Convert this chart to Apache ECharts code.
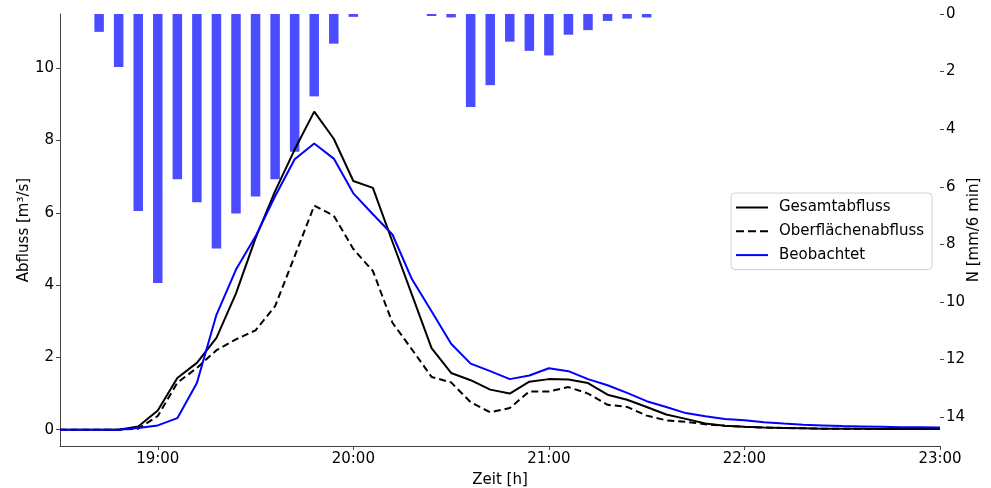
<!DOCTYPE html>
<html>
<head>
<meta charset="utf-8">
<script src="https://cdn.jsdelivr.net/npm/echarts@6/dist/echarts.min.js"></script>
<style>html,body{margin:0;padding:0;background:#fff}#c{width:991px;height:488px}</style>
</head>
<body>
<div id="c"></div>
<script>
var times = ["18:30","18:36","18:42","18:48","18:54","19:00","19:06","19:12","19:18","19:24","19:30","19:36","19:42","19:48","19:54","20:00","20:06","20:12","20:18","20:24","20:30","20:36","20:42","20:48","20:54","21:00","21:06","21:12","21:18","21:24","21:30","21:36","21:42","21:48","21:54","22:00","22:06","22:12","22:18","22:24","22:30","22:36","22:42","22:48","22:54","23:00"];
var niederschlag = [0,0,0.62,1.84,6.84,9.34,5.74,6.54,8.14,6.93,6.34,5.74,4.78,2.86,1.03,0.10,0,0,0,0.07,0.12,3.23,2.47,0.96,1.28,1.44,0.72,0.56,0.24,0.16,0.12,0,0,0,0,0,0,0,0,0,0,0,0,0,0,0];
var gesamtabfluss = [0,0,0,0,0.09,0.53,1.43,1.85,2.54,3.77,5.3,6.6,7.75,8.8,8.05,6.88,6.69,5.2,3.73,2.26,1.57,1.37,1.11,1.0,1.33,1.40,1.39,1.29,0.97,0.83,0.63,0.42,0.30,0.17,0.11,0.08,0.06,0.05,0.04,0.03,0.03,0.03,0.02,0.02,0.02,0.02];
var oberflaechenabfluss = [0,0,0,0,0.03,0.38,1.3,1.71,2.2,2.5,2.75,3.42,4.8,6.2,5.92,5.0,4.39,2.96,2.22,1.46,1.31,0.76,0.48,0.60,1.06,1.06,1.18,1.0,0.69,0.63,0.39,0.26,0.22,0.15,0.11,0.08,0.06,0.05,0.04,0.03,0.03,0.02,0.02,0.02,0.02,0.02];
var beobachtet = [0,0,0,0,0.05,0.12,0.32,1.29,3.18,4.43,5.35,6.46,7.48,7.92,7.5,6.54,5.96,5.4,4.16,3.28,2.38,1.83,1.62,1.40,1.50,1.70,1.62,1.40,1.23,1.02,0.79,0.63,0.46,0.37,0.30,0.26,0.21,0.17,0.14,0.12,0.10,0.09,0.08,0.07,0.07,0.06];
var xTickLabels = ["19:00","20:00","21:00","22:00","23:00"];
var leftTicks = [0,2,4,6,8,10];
var rightTicks = [0,2,4,6,8,10,12,14];

function toMin(s){var p=s.split(":");return (+p[0])*60+(+p[1]);}
function fmt(v){var h=Math.floor(v/60),m=Math.round(v-h*60);return h+":"+(m<10?"0":"")+m;}
function pairs(arr){return times.map(function(t,i){return [toMin(t),arr[i]];});}

var font = "DejaVu Sans";
var axisCol = "#444";
var solidIcon = 'path://M0,0H32V2H0Z';
var dashIcon = 'path://M0,0H8V2H0Z M12,0H20V2H12Z M24,0H32V2H24Z';
var chart = echarts.init(document.getElementById('c'), null, {renderer:'canvas'});
chart.setOption({
  animation:false,
  backgroundColor:'#fff',
  textStyle:{fontFamily:font},
  grid:{left:60,right:51,top:14,bottom:42,containLabel:false,outerBoundsMode:'none'},
  legend:{
    orient:'vertical', left:731, top:193,
    padding:[7,8,7,5], itemGap:8.8, itemWidth:32, itemHeight:14,
    borderColor:'#d0d0d0', borderWidth:1, borderRadius:4, backgroundColor:'rgba(255,255,255,0.8)',
    textStyle:{fontFamily:font,fontSize:15,color:'#000',padding:[0,0,0,6]},
    data:[{name:'Gesamtabfluss',icon:solidIcon},{name:'Oberflächenabfluss',icon:dashIcon},{name:'Beobachtet',icon:solidIcon}]
  },
  xAxis:{
    type:'value', min:toMin(times[0]), max:toMin(times[times.length-1]),
    name:'Zeit [h]', nameLocation:'middle', nameGap:27,
    nameTextStyle:{fontFamily:font,fontSize:15,color:'#000'},
    splitLine:{show:false},
    axisLine:{show:true,onZero:false,lineStyle:{color:axisCol,width:1}},
    axisTick:{show:true,length:4,lineStyle:{color:axisCol},customValues:xTickLabels.map(toMin)},
    axisLabel:{fontFamily:font,fontSize:15,color:'#000',margin:6,customValues:xTickLabels.map(toMin),formatter:function(v){return fmt(v);}}
  },
  yAxis:[{
    type:'value', min:-0.45, max:11.5, position:'left',
    name:'Abfluss [m³/s]', nameLocation:'middle', nameGap:28, nameRotate:90, nameMoveOverlap:false,
    nameTextStyle:{fontFamily:font,fontSize:15,color:'#000'},
    splitLine:{show:false},
    axisLine:{show:true,onZero:false,lineStyle:{color:axisCol,width:1}},
    axisTick:{show:true,length:4,lineStyle:{color:axisCol},customValues:leftTicks},
    axisLabel:{fontFamily:font,fontSize:15,color:'#000',margin:6,customValues:leftTicks}
  },{
    type:'value', min:0, max:15, inverse:true, position:'right',
    name:'N [mm/6 min]', nameLocation:'middle', nameGap:27, nameRotate:90, nameMoveOverlap:false,
    nameTextStyle:{fontFamily:font,fontSize:15,color:'#000'},
    splitLine:{show:false},
    axisLine:{show:false},
    axisTick:{show:true,length:4,lineStyle:{color:axisCol},customValues:rightTicks},
    axisLabel:{fontFamily:font,fontSize:15,color:'#000',margin:6,customValues:rightTicks}
  }],
  series:[{
    name:'Niederschlag', type:'bar', yAxisIndex:1, barWidth:9.5, z:1,
    itemStyle:{color:'rgba(0,0,255,0.7)'},
    data:pairs(niederschlag)
  },{
    name:'Gesamtabfluss', type:'line', symbol:'none', z:3,
    lineStyle:{color:'#000',width:2}, itemStyle:{color:'#000'},
    data:pairs(gesamtabfluss)
  },{
    name:'Oberflächenabfluss', type:'line', symbol:'none', z:3,
    lineStyle:{color:'#000',width:2,type:[7,4]}, itemStyle:{color:'#000'},
    data:pairs(oberflaechenabfluss)
  },{
    name:'Beobachtet', type:'line', symbol:'none', z:4,
    lineStyle:{color:'#0000ff',width:2}, itemStyle:{color:'#0000ff'},
    data:pairs(beobachtet)
  }]
});
</script>
</body>
</html>
